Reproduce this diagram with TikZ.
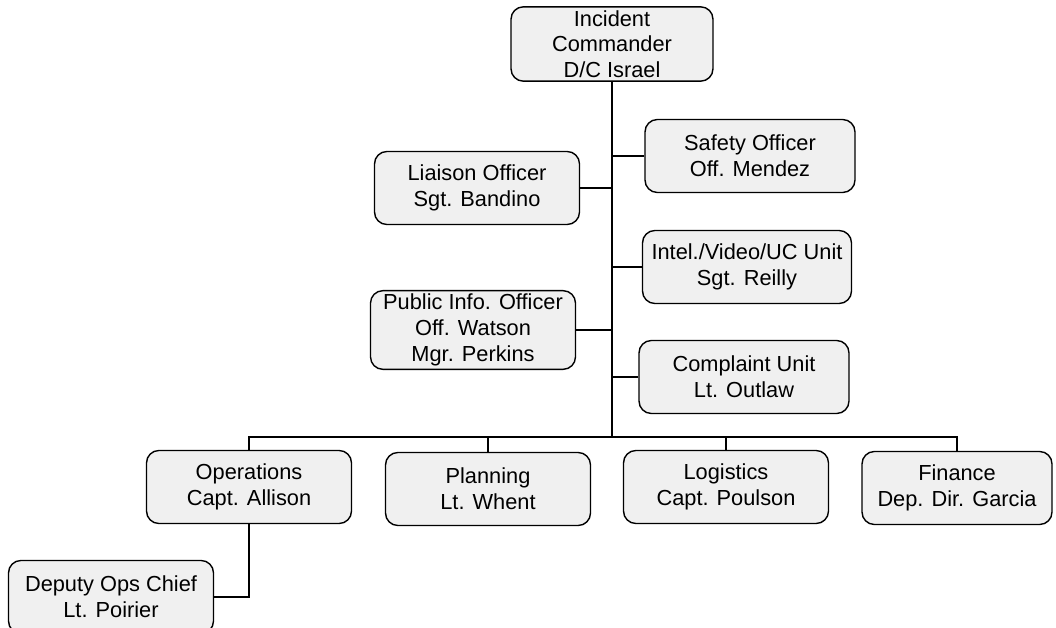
\documentclass[tikz,border=0pt]{standalone}
\usepackage{fontspec}
\setmainfont{Liberation Sans}
\tikzset{
  unit/.style={draw, line width=0.8pt, rounded corners=7pt, fill=gray!12,
    align=center, inner sep=2pt, minimum width=4.1cm, minimum height=1.46cm,
    font=\fontsize{12.4}{14.6}\selectfont},
  link/.style={line width=0.9pt}
}
\begin{document}
\begin{tikzpicture}[x=0.02cm, y=-0.02cm]
    \useasboundingbox (0,0) rectangle (1056,628);
    % command and staff
    \node[unit, minimum width=4.04cm] (ic) at (612,44) {Incident\\Commander\\D/C Israel};
    \node[unit, minimum width=4.2cm] (safety) at (750,156) {Safety Officer\\Off. Mendez};
    \node[unit] (liaison) at (477,188) {Liaison Officer\\Sgt. Bandino};
    \node[unit, minimum width=4.18cm] (intel) at (747,267) {Intel./Video/UC Unit\\Sgt. Reilly};
    \node[unit] (pio) at (473,330) {Public Info. Officer\\Off. Watson\\Mgr. Perkins};
    \node[unit, minimum width=4.2cm] (complaint) at (744,377) {Complaint Unit\\Lt. Outlaw};
    % sections
    \node[unit] (ops) at (249,487) {Operations\\Capt. Allison};
    \node[unit] (plan) at (488,489) {Planning\\Lt. Whent};
    \node[unit] (log) at (726,487) {Logistics\\Capt. Poulson};
    \node[unit, minimum width=3.8cm] (fin) at (957,488) {Finance\\Dep. Dir. Garcia};
    \node[unit] (dep) at (111,597) {Deputy Ops Chief\\Lt. Poirier};
    \coordinate (bus) at (612,437);
    % lines
    \draw[link] (ic.south) -- (bus);
    \draw[link] (safety.west) -- (safety.west -| bus);
    \draw[link] (liaison.east) -- (liaison.east -| bus);
    \draw[link] (intel.west) -- (intel.west -| bus);
    \draw[link] (pio.east) -- (pio.east -| bus);
    \draw[link] (complaint.west) -- (complaint.west -| bus);
    \draw[link] (ops.north) |- (bus) -| (fin.north);
    \draw[link] (plan.north) -- (plan.north |- bus);
    \draw[link] (log.north) -- (log.north |- bus);
    \draw[link] (ops.south) |- (dep.east);
\end{tikzpicture}
\end{document}
